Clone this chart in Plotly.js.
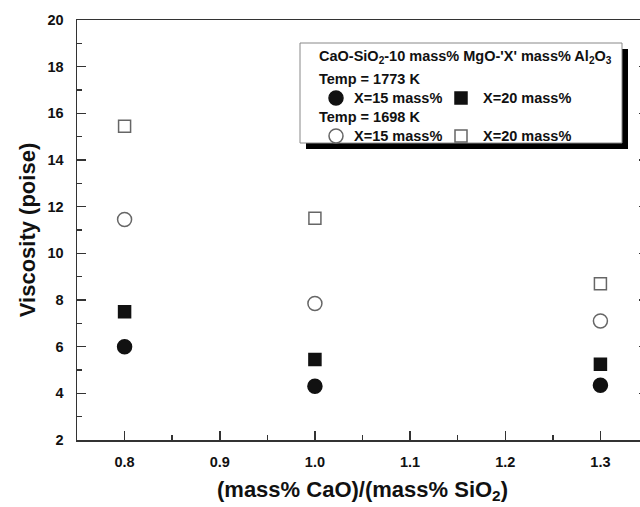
<!DOCTYPE html>
<html>
<head>
<meta charset="utf-8">
<script src="https://cdn.plot.ly/plotly-3.0.1.min.js"></script>
<style>
html,body{margin:0;padding:0;overflow:hidden;background:#fff;}
#chart{width:660px;height:507px;}
</style>
</head>
<body>
<div id="chart"></div>
<script>
// ---- data ----
var ratio = [0.8, 1.0, 1.3];
var visc1773_X15 = [6.0, 4.3, 4.35];
var visc1773_X20 = [7.5, 5.45, 5.25];
var visc1698_X15 = [11.45, 7.85, 7.1];
var visc1698_X20 = [15.45, 11.5, 8.7];

var legendTitle = "CaO-SiO<sub>2</sub>-10 mass% MgO-'X' mass% Al<sub>2</sub>O<sub>3</sub>";
var tempLabels = ["Temp = 1773 K", "Temp = 1698 K"];
var seriesLabels = ["X=15 mass%", "X=20 mass%"];
var xTitle = "(mass% CaO)/(mass% SiO<sub>2</sub>)";
var yTitle = "Viscosity (poise)";

// ---- layout geometry ----
var W = 660, H = 507;
var M = {l: 77, r: 12, t: 20, b: 67};
var PW = W - M.l - M.r, PH = H - M.t - M.b;
function px(x){ return (x - M.l) / PW; }
function py(y){ return (H - M.b - y) / PH; }

var FONT = "Liberation Sans, Arial, sans-serif";
var INK = "#111";
var OPEN = "#666";

function tr(y, sym, col, line){
  return {x: ratio, y: y, type: 'scatter', mode: 'markers', showlegend: false,
    marker: {symbol: sym, size: sym.indexOf('square') === 0 ? 12 : 14, color: col,
      line: {color: line, width: 1.5}}};
}
var data = [
  tr(visc1698_X20, 'square-open', OPEN, OPEN),
  tr(visc1698_X15, 'circle-open', OPEN, OPEN),
  tr(visc1773_X20, 'square', INK, INK),
  tr(visc1773_X15, 'circle', INK, INK)
];

// legend box (drawn)
var bx0 = 300, bx1 = 622, by0 = 43, by1 = 143, sh = 6;
var shapes = [
  {type:'rect', xref:'paper', yref:'paper', x0:px(bx0+sh), x1:px(bx1+sh), y0:py(by1+sh), y1:py(by0+sh),
   fillcolor:'#000', line:{width:0}, layer:'above'},
  {type:'rect', xref:'paper', yref:'paper', x0:px(bx0), x1:px(bx1), y0:py(by1), y1:py(by0),
   fillcolor:'#fff', line:{color:'#888', width:1}, layer:'above'}
];
function keyShape(type, cx, cy, half, fill, line){
  return {type:type, xref:'paper', yref:'paper', x0:px(cx-half), x1:px(cx+half), y0:py(cy+half), y1:py(cy-half),
    fillcolor:fill, line:{color:line, width:1.5}, layer:'above'};
}
shapes.push(keyShape('circle', 336, 98, 7, INK, INK));
shapes.push(keyShape('rect', 461, 98, 6, INK, INK));
shapes.push(keyShape('circle', 336, 136, 7, '#fff', OPEN));
shapes.push(keyShape('rect', 461, 136, 6, '#fff', OPEN));

function ann(text, x, y){
  return {text: text, xref:'paper', yref:'paper', x: px(x), y: py(y), xanchor:'left', yanchor:'middle',
    showarrow:false, font:{family:FONT, size:14.5, color:INK, weight:'bold'}};
}
var annotations = [
  ann(legendTitle, 317, 57),
  ann(tempLabels[0], 317, 79),
  ann(seriesLabels[0], 352, 98),
  ann(seriesLabels[1], 481, 98),
  ann(tempLabels[1], 317, 117),
  ann(seriesLabels[0], 352, 136),
  ann(seriesLabels[1], 481, 136)
];

var layout = {
  width: W, height: H,
  margin: M,
  paper_bgcolor:'#fff', plot_bgcolor:'#fff',
  font: {family: FONT, color: INK},
  showlegend: false,
  xaxis: {
    range: [0.75, 1.35], tick0: 0.8, dtick: 0.1, tickformat: '.1f',
    ticks: 'inside', ticklen: 9, tickwidth: 1.5, tickcolor: '#333',
    minor: {dtick: 0.05, tick0: 0.75, ticks: 'inside', ticklen: 5, tickwidth: 1.5, tickcolor:'#333'},
    showline: true, linecolor: '#333', linewidth: 1.5, mirror: true,
    showgrid: false, zeroline: false,
    tickfont: {family: FONT, size: 14.5, color: INK, weight: 'bold'},
    ticklabelstandoff: 8,
    title: {text: xTitle, font: {family: FONT, size: 22, color: INK, weight: 'bold'}, standoff: 12}
  },
  yaxis: {
    range: [2, 20], tick0: 2, dtick: 2,
    ticks: 'inside', ticklen: 9, tickwidth: 1.5, tickcolor: '#333',
    minor: {dtick: 1, ticks: 'inside', ticklen: 5, tickwidth: 1.5, tickcolor:'#333'},
    showline: true, linecolor: '#333', linewidth: 1.5, mirror: 'allticks',
    showgrid: false, zeroline: false,
    tickfont: {family: FONT, size: 14.5, color: INK, weight: 'bold'},
    ticklabelstandoff: 9,
    title: {text: yTitle, font: {family: FONT, size: 22, color: INK, weight: 'bold'}, standoff: 6}
  },
  shapes: shapes,
  annotations: annotations
};

Plotly.newPlot('chart', data, layout, {displayModeBar: false, staticPlot: true});
</script>
</body>
</html>
